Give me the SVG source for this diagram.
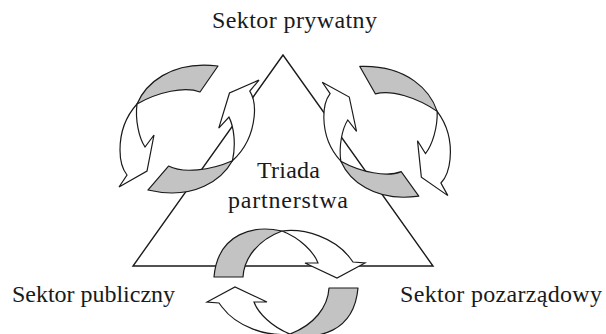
<svg xmlns="http://www.w3.org/2000/svg" width="606" height="334" viewBox="0 0 606 334">
<style>
 .tri{fill:none;stroke:#1a1a1a;stroke-width:1.4}
 .g{fill:#c3c3c3;stroke:#1a1a1a;stroke-width:1.2;stroke-linejoin:round}
 .w{fill:#ffffff;stroke:#1a1a1a;stroke-width:1.2;stroke-linejoin:miter}
 .lbl{font-family:"Liberation Serif", "Times New Roman", serif;font-size:24px;fill:#1a1a1a;text-anchor:middle}
</style>
<defs>
 <g id="arrowA">
  <path class="g" d="M218,66 L200,92 C185,86 158,92 137,104 C145,85 170,60 218,66 Z"/>
  <path class="w" d="M137,104 C128,114 120,130 120,150 C120,162 123,170 127,175 L119,187 L147,171 L154,135 L145,147 C139,138 135,120 137,104 Z"/>
 </g>
 <g id="arrowC">
  <path class="g" d="M214,277 L243,277 C244,258 258,240 282,231 C255,225 218,232 214,277 Z"/>
  <path class="w" d="M282,231 C305,228 335,238 350,258 L353,262 L365,263 L337,278 L305,263 L318,263 C314,252 300,238 282,231 Z"/>
 </g>
</defs>
<g id="triangle">
 <polygon class="tri" points="283,55 133,266 433,266"/>
</g>
<g id="connectors">
 <g id="cycle-left">
  <use href="#arrowA"/>
  <use href="#arrowA" transform="translate(-2,0) rotate(186,187.2,129.8)"/>
 </g>
 <g id="cycle-right" transform="translate(0,3) rotate(5,386,131) translate(572,0) scale(-1,1)">
  <use href="#arrowA"/>
  <use href="#arrowA" transform="translate(148,190) scale(0.955) translate(-148,-190) translate(-2,0) rotate(186,187.2,129.8)"/>
 </g>
 <g id="cycle-bottom">
  <use href="#arrowC"/>
  <use href="#arrowC" transform="rotate(180,286,282.5)"/>
 </g>
</g>
<g id="node-prywatny"><text class="lbl" x="294.5" y="28" textLength="165">Sektor prywatny</text></g>
<g id="node-publiczny"><text class="lbl" x="93.5" y="302" textLength="163">Sektor publiczny</text></g>
<g id="node-pozarzadowy"><text class="lbl" x="501" y="302" textLength="202">Sektor pozarządowy</text></g>
<g id="node-triada"><text class="lbl" x="288.5" y="178" textLength="63">Triada</text><text class="lbl" x="288" y="208" textLength="120">partnerstwa</text></g>
</svg>
